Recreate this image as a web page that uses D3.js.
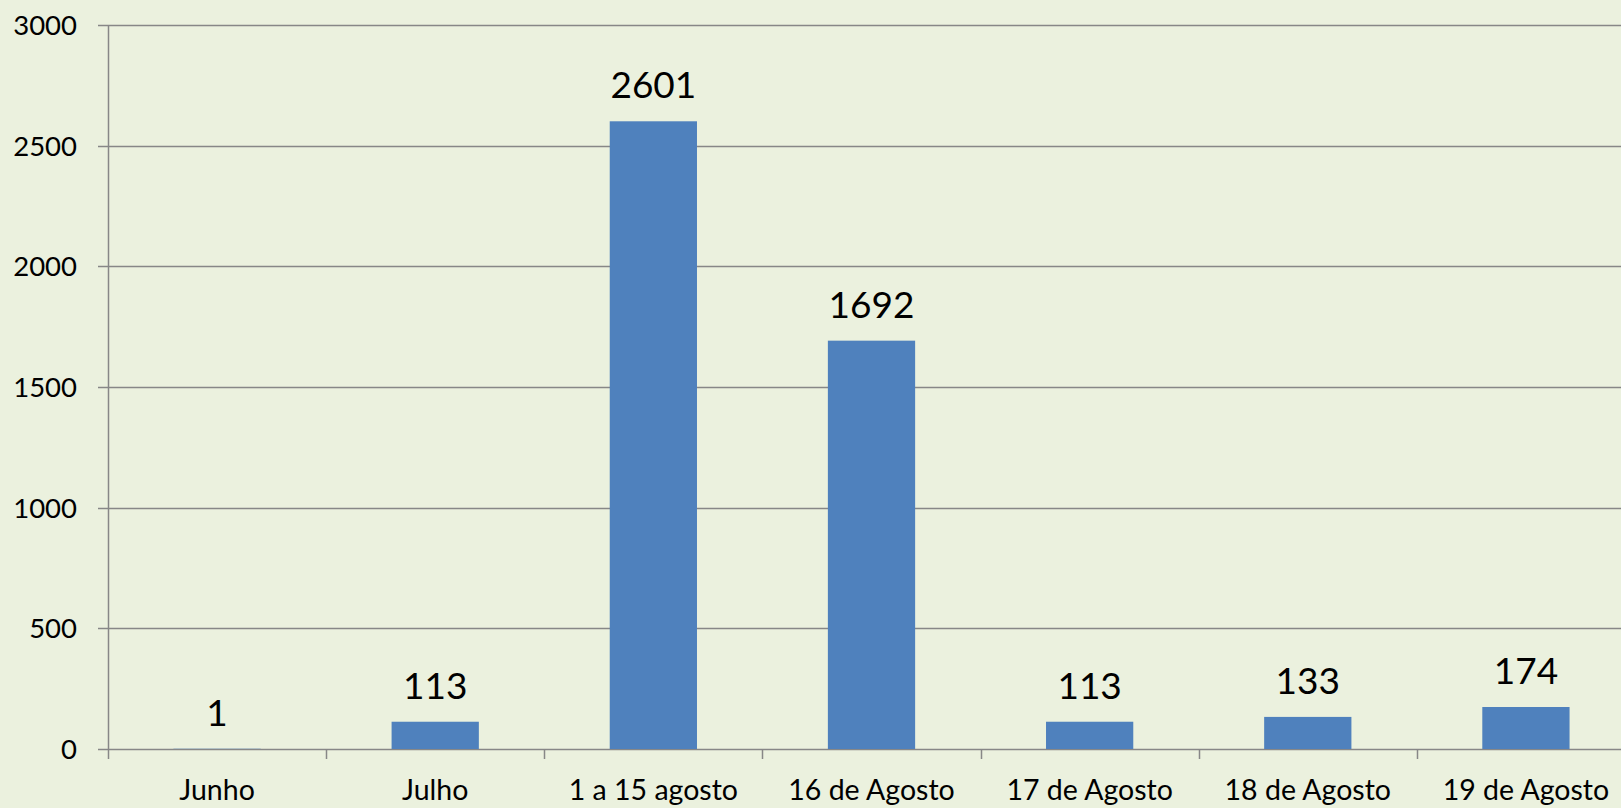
<!DOCTYPE html>
<html>
<head>
<meta charset="utf-8">
<script src="https://cdn.jsdelivr.net/npm/d3@7"></script>
<style>
  html, body { margin: 0; padding: 0; background: #EBF1DE; overflow: hidden; }
  svg { display: block; }
</style>
</head>
<body>
<script>
// data
var categories = ["Junho", "Julho", "1 a 15 agosto", "16 de Agosto", "17 de Agosto", "18 de Agosto", "19 de Agosto"];
var values = [1, 113, 2601, 1692, 113, 133, 174];
var yTicks = [0, 500, 1000, 1500, 2000, 2500, 3000];

var W = 1621, H = 808;
var margin = {top: 25, left: 108, bottom: 59};
var plotRight = 1635; // the last category runs past the window edge

var svg = d3.select("body").append("svg")
    .attr("width", W)
    .attr("height", H);

var x = d3.scaleBand()
    .domain(categories)
    .range([margin.left, plotRight])
    .paddingInner(0.6)
    .paddingOuter(0.3);

var y = d3.scaleLinear()
    .domain([0, 3000])
    .range([H - margin.bottom, margin.top]);

var grey = "#878787";
var font = "Lato, 'Open Sans', sans-serif";

// gridlines with small left ticks
svg.append("g")
    .selectAll("line")
    .data(yTicks)
    .enter().append("line")
    .attr("x1", margin.left - 10)
    .attr("x2", W)
    .attr("y1", d => Math.round(y(d)) + 0.5)
    .attr("y2", d => Math.round(y(d)) + 0.5)
    .attr("stroke", grey)
    .attr("stroke-width", 1.5);

// y axis labels
svg.append("g")
    .selectAll("text")
    .data(yTicks)
    .enter().append("text")
    .attr("x", 77)
    .attr("y", d => y(d))
    .attr("dy", "0.36em")
    .attr("text-anchor", "end")
    .style("font-family", font)
    .style("font-size", "27.5px")
    .style("fill", "#000")
    .text(d => d);

// bars
svg.selectAll(".bar")
    .data(values)
    .enter().append("rect")
    .attr("class", "bar")
    .attr("x", (d, i) => x(categories[i]))
    .attr("width", x.bandwidth())
    .attr("y", d => y(d))
    .attr("height", d => y(0) - y(d))
    .attr("fill", "#4F81BD");

// value labels
svg.selectAll(".val")
    .data(values)
    .enter().append("text")
    .attr("class", "val")
    .attr("x", (d, i) => x(categories[i]) + x.bandwidth() / 2)
    .attr("y", d => y(d) - 23)
    .attr("text-anchor", "middle")
    .style("font-family", font)
    .style("font-size", "37px")
    .style("fill", "#000")
    .text(d => d);

// y axis line
svg.append("line")
    .attr("x1", margin.left + 0.5)
    .attr("x2", margin.left + 0.5)
    .attr("y1", y(3000))
    .attr("y2", y(0))
    .attr("stroke", grey)
    .attr("stroke-width", 1.5);

// category boundary ticks
var step = x.step();
var bounds = d3.range(categories.length + 1).map(i => margin.left + i * step);
svg.append("g")
    .selectAll("line")
    .data(bounds)
    .enter().append("line")
    .attr("x1", d => Math.round(d) + 0.5)
    .attr("x2", d => Math.round(d) + 0.5)
    .attr("y1", y(0))
    .attr("y2", y(0) + 10)
    .attr("stroke", grey)
    .attr("stroke-width", 1.5);

// category labels
svg.append("g")
    .selectAll("text")
    .data(categories)
    .enter().append("text")
    .attr("x", d => x(d) + x.bandwidth() / 2)
    .attr("y", 800)
    .attr("text-anchor", "middle")
    .style("font-family", font)
    .style("font-size", "28.5px")
    .style("fill", "#000")
    .text(d => d);
</script>
</body>
</html>
